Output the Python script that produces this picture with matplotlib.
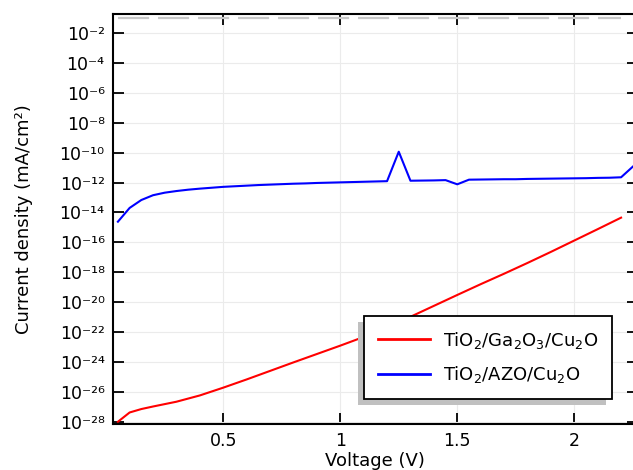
import numpy as np
import matplotlib
matplotlib.use("Agg")
import matplotlib.pyplot as plt
from matplotlib.patches import Rectangle

# TiO2/Ga2O3/Cu2O device, log10 of current density (mA/cm^2)
v_ga = [0.05, 0.10, 0.15, 0.20, 0.30, 0.40, 0.50, 0.60, 0.70, 0.80, 0.90, 1.00,
        1.10, 1.20, 1.30, 1.40, 1.50, 1.60, 1.70, 1.80, 1.90, 2.00, 2.10, 2.20]
logj_ga = [-28.0, -27.38, -27.15, -26.98, -26.66, -26.24, -25.72, -25.17, -24.60,
           -24.03, -23.47, -22.91, -22.33, -21.70, -20.98, -20.25, -19.52, -18.80,
           -18.10, -17.38, -16.64, -15.88, -15.12, -14.35]

# TiO2/AZO/Cu2O device
v_azo = [0.05, 0.10, 0.15, 0.20, 0.25, 0.30, 0.35, 0.40, 0.45, 0.50, 0.55, 0.60,
         0.65, 0.70, 0.75, 0.80, 0.85, 0.90, 0.95, 1.00, 1.05, 1.10, 1.15, 1.20,
         1.25, 1.30, 1.35, 1.40, 1.45, 1.50, 1.55, 1.60, 1.65, 1.70, 1.75, 1.80,
         1.85, 1.90, 1.95, 2.00, 2.05, 2.10, 2.15, 2.20, 2.25]
logj_azo = [-14.62, -13.70, -13.17, -12.85, -12.68, -12.57, -12.48, -12.41, -12.35,
            -12.29, -12.25, -12.21, -12.17, -12.14, -12.11, -12.08, -12.06, -12.03,
            -12.01, -11.99, -11.97, -11.95, -11.93, -11.91, -9.94, -11.88, -11.87,
            -11.86, -11.84, -12.12, -11.81, -11.80, -11.79, -11.78, -11.78, -11.76,
            -11.75, -11.74, -11.73, -11.72, -11.71, -11.69, -11.68, -11.65, -10.94]

# reference level drawn as a dashed grey line
v_ref = [0.05, 2.20]
j_ref = [1e-1, 1e-1]

x_ticks = [0.5, 1, 1.5, 2]
x_labels = ["0.5", "1", "1.5", "2"]
y_exps = list(range(-28, -1, 2))

sup = str.maketrans("-0123456789", "⁻⁰¹²³⁴⁵⁶⁷⁸⁹")

fig = plt.figure(figsize=(6.33, 4.70), dpi=100)
ax = fig.add_axes([113 / 633, 1 - 424 / 470, (637.7 - 113) / 633, (424 - 14) / 470])

ax.plot(v_ref, j_ref, color="#c8c8c8", lw=1.6, dashes=(14, 4))
ax.plot(v_ga, 10.0 ** np.array(logj_ga), color="red", lw=1.5,
        label="TiO$_2$/Ga$_2$O$_3$/Cu$_2$O")
ax.plot(v_azo, 10.0 ** np.array(logj_azo), color="blue", lw=1.5,
        label="TiO$_2$/AZO/Cu$_2$O")

ax.set_yscale("log")
ax.set_xlim(0.029, 2.271)
ax.set_ylim(10 ** -28.15, 10 ** -0.73)
ax.set_xticks(x_ticks)
ax.set_xticklabels(x_labels)
ax.set_yticks([10.0 ** k for k in y_exps])
ax.set_yticklabels(["10" + str(k).translate(sup) for k in y_exps])
ax.yaxis.set_minor_locator(matplotlib.ticker.NullLocator())

ax.grid(True, color="#ebebeb", lw=0.8)
ax.set_axisbelow(True)
ax.tick_params(direction="in", length=8, width=1.3, top=True, right=True,
               labelsize=12.5, pad=6)
for s in ax.spines.values():
    s.set_linewidth(1.5)

ax.set_xlabel("Voltage (V)", fontsize=13, labelpad=1)
ax.set_ylabel("Current density (mA/cm²)", fontsize=13, labelpad=19)

leg = ax.legend(loc="upper left", bbox_to_anchor=(0.479, 0.2634), fontsize=13,
                frameon=True, fancybox=False, edgecolor="black",
                facecolor="white", framealpha=1,
                borderpad=0.75, handlelength=2.9, handletextpad=0.7,
                labelspacing=0.75, borderaxespad=0)
leg.get_frame().set_linewidth(1.3)
for h in leg.get_lines():
    h.set_linewidth(2.0)
leg.set_zorder(5)

# offset grey shadow behind the legend box
fig.canvas.draw()
bb = leg.get_window_extent().transformed(fig.transFigure.inverted())
shadow = Rectangle((bb.x0 - 6 / 633, bb.y0 - 6 / 470), bb.width, bb.height,
                   transform=fig.transFigure, facecolor="#c0c0c0",
                   edgecolor="none", zorder=4, clip_on=False)
ax.add_patch(shadow)

fig.savefig("out.png", dpi=100)
